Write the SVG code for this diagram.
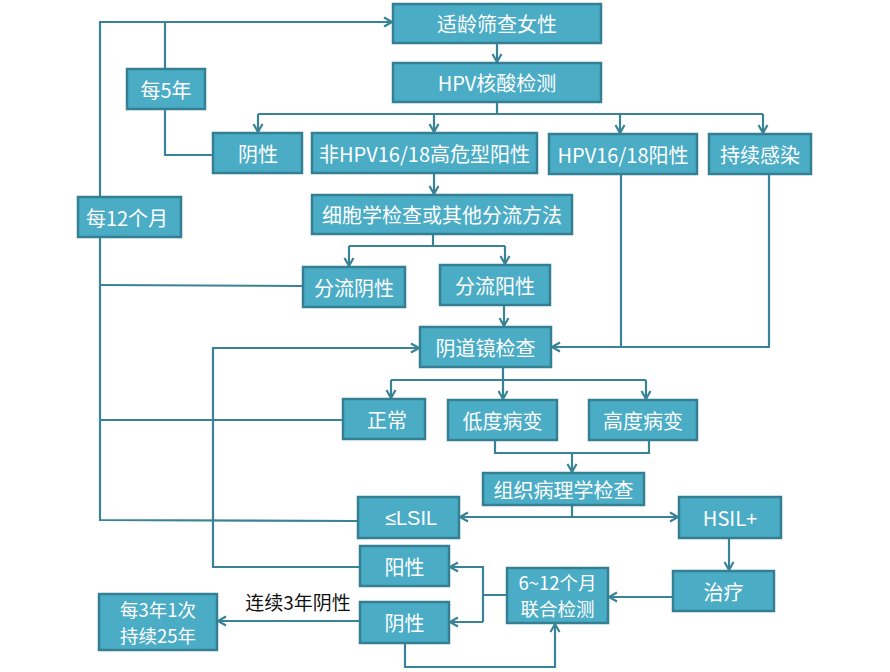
<svg xmlns="http://www.w3.org/2000/svg" width="890" height="672" viewBox="0 0 890 672">
<style>
.box{fill:#4BACC6;stroke:#357F93;stroke-width:2.5}
.t{fill:#FFFFFF;font-family:"Noto Sans CJK SC","Liberation Sans",sans-serif;font-size:20px;text-anchor:middle;dominant-baseline:central}
.s{font-size:18.5px}
.lat{font-family:"Liberation Sans","Noto Sans CJK SC",sans-serif}
.lbl{fill:#111111;font-family:"Noto Sans CJK SC","Liberation Sans",sans-serif;font-size:19px;text-anchor:middle;dominant-baseline:central}
.c{fill:none;stroke:#3A8397;stroke-width:2.2}
.a{marker-end:url(#arr)}
.b{marker-start:url(#arr);marker-end:url(#arr)}
</style>
<defs>
<marker id="arr" markerUnits="userSpaceOnUse" viewBox="0 0 12 12" markerWidth="12" markerHeight="12" refX="11" refY="6" orient="auto-start-reverse">
<polyline points="3,1.5 11,6 3,10.5" fill="none" stroke="#3A8397" stroke-width="2.2"/>
</marker>
</defs>
<rect width="890" height="672" fill="#FFFFFF"/>
<g id="connectors">
<path class="c a" d="M358,521 L100,520 L100,22 L392,22"/>
<path class="c" d="M165,22 L165,155 L213,155"/>
<path class="c a" d="M497,43 L497,62"/>
<path class="c" d="M497,102 L497,114 M258,114 L763,114"/>
<path class="c a" d="M258,114 L258,132"/>
<path class="c a" d="M434,114 L434,132"/>
<path class="c a" d="M620,114 L620,133"/>
<path class="c a" d="M763,114 L763,133"/>
<path class="c a" d="M434,173 L434,194"/>
<path class="c" d="M433,234 L433,246 M349,246 L505,246"/>
<path class="c a" d="M349,246 L349,266"/>
<path class="c a" d="M505,246 L505,264"/>
<path class="c" d="M303,286 L100,285"/>
<path class="c a" d="M504,305 L504,326"/>
<path class="c" d="M621,174 L621,347"/>
<path class="c a" d="M769,174 L769,347 L552,347"/>
<path class="c a" d="M360,567 L213,567 L213,348 L419,348"/>
<path class="c" d="M503,367 L503,380 M391,380 L646,380"/>
<path class="c a" d="M391,380 L391,398"/>
<path class="c a" d="M503,380 L503,399"/>
<path class="c a" d="M646,380 L646,399"/>
<path class="c" d="M343,420 L100,420"/>
<path class="c" d="M495,440 L495,453 L649,453 L649,440"/>
<path class="c a" d="M572,453 L572,472"/>
<path class="c" d="M572,505 L572,517"/>
<path class="c b" d="M460,517 L678,517"/>
<path class="c a" d="M729,538 L729,570"/>
<path class="c a" d="M673,597 L609,597"/>
<path class="c" d="M507,595 L483,595 M483,566 L483,622"/>
<path class="c a" d="M483,567 L450,567"/>
<path class="c a" d="M483,622 L450,622"/>
<path class="c a" d="M405,643 L405,667 L555,667 L555,624"/>
<path class="c a" d="M360,621 L218,621"/>
</g>
<g id="n1"><rect class="box" x="393" y="4" width="208" height="39"/><text class="t" x="497" y="23.5">适龄筛查女性</text></g>
<g id="n2"><rect class="box" x="393" y="63" width="208" height="39"/><text class="t" x="497" y="82.5">HPV核酸检测</text></g>
<g id="n3"><rect class="box" x="127" y="69" width="78" height="40"/><text class="t" x="166" y="89">每5年</text></g>
<g id="n4"><rect class="box" x="213" y="133" width="89" height="40"/><text class="t" x="258" y="153">阴性</text></g>
<g id="n5"><rect class="box" x="312" y="133" width="225" height="40"/><text class="t" x="424.5" y="153">非HPV16/18高危型阳性</text></g>
<g id="n6"><rect class="box" x="549" y="134" width="148" height="40"/><text class="t" x="623" y="154">HPV16/18阳性</text></g>
<g id="n7"><rect class="box" x="709" y="134" width="102" height="40"/><text class="t" x="760" y="154">持续感染</text></g>
<g id="n8"><rect class="box" x="78" y="197" width="103" height="40"/><text class="t" x="127" y="217">每12个月</text></g>
<g id="n9"><rect class="box" x="312" y="195" width="260" height="39"/><text class="t" x="442" y="214.5">细胞学检查或其他分流方法</text></g>
<g id="n10"><rect class="box" x="303" y="267" width="102" height="40"/><text class="t" x="354" y="287">分流阴性</text></g>
<g id="n11"><rect class="box" x="440" y="265" width="110" height="40"/><text class="t" x="495" y="285">分流阳性</text></g>
<g id="n12"><rect class="box" x="420" y="327" width="131" height="40"/><text class="t" x="485.5" y="347">阴道镜检查</text></g>
<g id="n13"><rect class="box" x="343" y="399" width="82" height="40"/><text class="t" x="387" y="419">正常</text></g>
<g id="n14"><rect class="box" x="448" y="400" width="109" height="40"/><text class="t" x="502.5" y="420">低度病变</text></g>
<g id="n15"><rect class="box" x="589" y="400" width="108" height="40"/><text class="t" x="643" y="420">高度病变</text></g>
<g id="n16"><rect class="box" x="483" y="473" width="161" height="32"/><text class="t" x="563.5" y="489">组织病理学检查</text></g>
<g id="n17"><rect class="box" x="358" y="497" width="101" height="41"/><text class="t lat" x="411" y="517.5">≤LSIL</text></g>
<g id="n18"><rect class="box" x="679" y="497" width="102" height="41"/><text class="t" x="730" y="517.5">HSIL+</text></g>
<g id="n19"><rect class="box" x="360" y="546" width="89" height="40"/><text class="t" x="404.5" y="566">阳性</text></g>
<g id="n20"><rect class="box" x="360" y="602" width="89" height="41"/><text class="t" x="404.5" y="622.5">阴性</text></g>
<g id="n21"><rect class="box" x="507" y="568" width="101" height="55"/><text class="t s" x="557.5" y="582">6~12个月</text><text class="t s" x="557.5" y="608">联合检测</text></g>
<g id="n22"><rect class="box" x="673" y="571" width="101" height="40"/><text class="t" x="723.5" y="591">治疗</text></g>
<g id="n23"><rect class="box" x="99" y="594" width="118" height="56"/><text class="t s" x="158" y="609">每3年1次</text><text class="t s" x="158" y="635">持续25年</text></g>
<text class="lbl" x="298" y="601">连续3年阴性</text>
</svg>
